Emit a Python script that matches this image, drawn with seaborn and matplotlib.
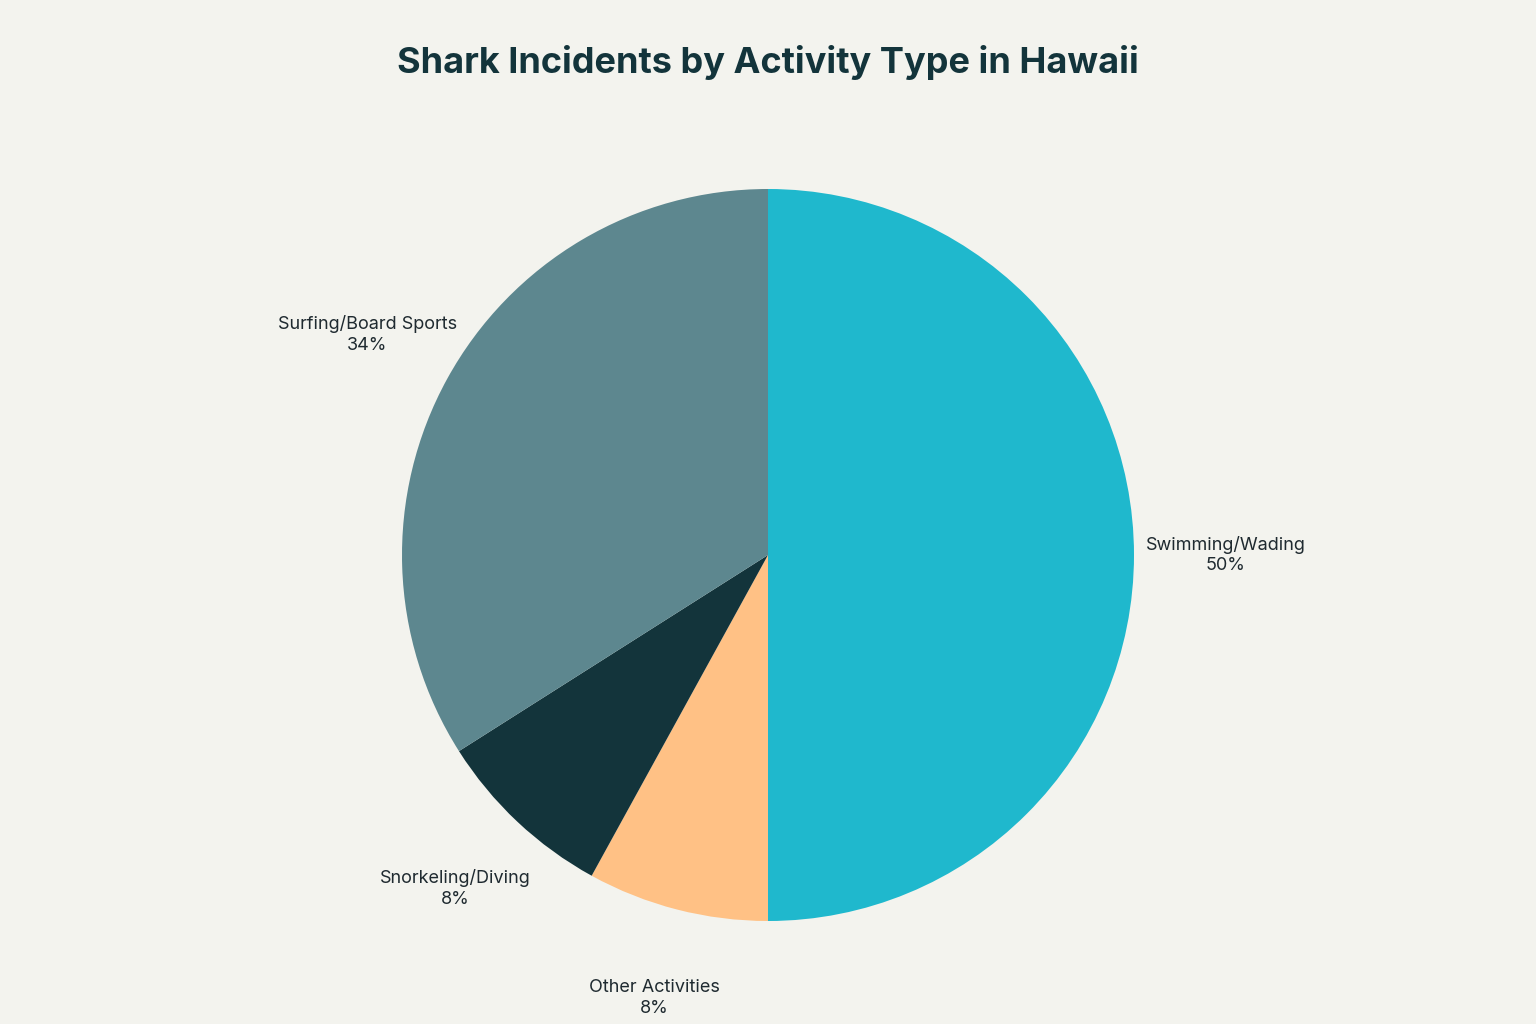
import matplotlib
matplotlib.use("Agg")
import matplotlib.pyplot as plt
import seaborn as sns

# data
activities = ["Swimming/Wading", "Other Activities", "Snorkeling/Diving", "Surfing/Board Sports"]
shares = [50, 8, 8, 34]
colors = ["#1FB8CD", "#FFC185", "#13343B", "#5D878F"]

sns.set_theme(style="white")
plt.rcParams["font.family"] = ["Inter", "DejaVu Sans"]
BG = "#F3F3EE"

fig = plt.figure(figsize=(15.36, 10.24), dpi=100, facecolor=BG)
# square axes centred on pie centre (768, 555 from top), radius 366 px
W, H = 1536, 1024
r = 366
ax = fig.add_axes([(768 - r) / W, (H - 555 - r) / H, 2 * r / W, 2 * r / H])
ax.set_facecolor(BG)

labels = [f"{a}\n{s}%" for a, s in zip(activities, shares)]
wedges, texts = ax.pie(shares, labels=labels, colors=colors, startangle=90,
                       counterclock=False, labeldistance=1.25,
                       wedgeprops=dict(linewidth=0),
                       textprops=dict(fontsize=13, color="#1F2A30"))
for t in texts:
    t.set_ha("center"); t.set_va("center")
    t.set_linespacing(1.3)
ax.set_xlim(-1, 1); ax.set_ylim(-1, 1)
ax.set_aspect("equal")
ax.axis("off")

fig.text(0.5, 1 - 63 / H, "Shark Incidents by Activity Type in Hawaii",
         ha="center", va="center", fontsize=26, fontweight="bold", color="#13343B")

fig.savefig("out.png", dpi=100, facecolor=BG)
